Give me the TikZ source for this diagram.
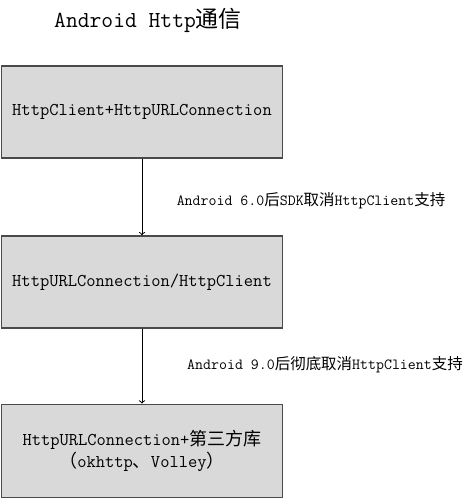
\documentclass[tikz,border=0pt]{standalone}
\usepackage{fontspec}
\usepackage{tikz}
\newfontfamily\cjk{Noto Sans CJK SC}
\definecolor{boxfill}{HTML}{D9D9D9}
\definecolor{boxline}{HTML}{4A4A4A}

\begin{document}
\begin{tikzpicture}[x=0.75pt,y=-0.75pt]

	\useasboundingbox (0,0) rectangle (473,500);

	\tikzset{stage/.style={shape=rectangle,draw=boxline,line width=1.1pt,fill=boxfill,
			minimum width=211pt,minimum height=69pt,inner sep=0pt,align=center,
			font=\ttfamily\fontsize{13.5}{17}\selectfont}}
	\tikzset{note/.style={font=\ttfamily\fontsize{11.6}{14}\selectfont,inner sep=0pt}}

	\node[font=\ttfamily\fontsize{17.2}{20}\selectfont] (title) at (148, 20) {Android Http{\cjk 通信}};

	\node[stage] (a) at (142, 112)   {HttpClient+HttpURLConnection};
	\node[stage] (b) at (142, 282)   {HttpURLConnection/HttpClient};
	\node[stage,minimum height=70pt] (c) at (142, 451)
		{HttpURLConnection+{\cjk 第三方库}\\{\cjk （}okhttp{\cjk 、}Volley{\cjk ）}};

	\node[note] (n1) at (311, 201)   {Android 6.0{\cjk 后}SDK{\cjk 取消}HttpClient{\cjk 支持}};
	\node[note] (n2) at (325, 365)   {Android 9.0{\cjk 后彻底取消}HttpClient{\cjk 支持}};

	\path[->, line width=0.75pt] (a) edge (b);
	\path[->, line width=0.75pt] (b) edge (c);

\end{tikzpicture}
\end{document}
